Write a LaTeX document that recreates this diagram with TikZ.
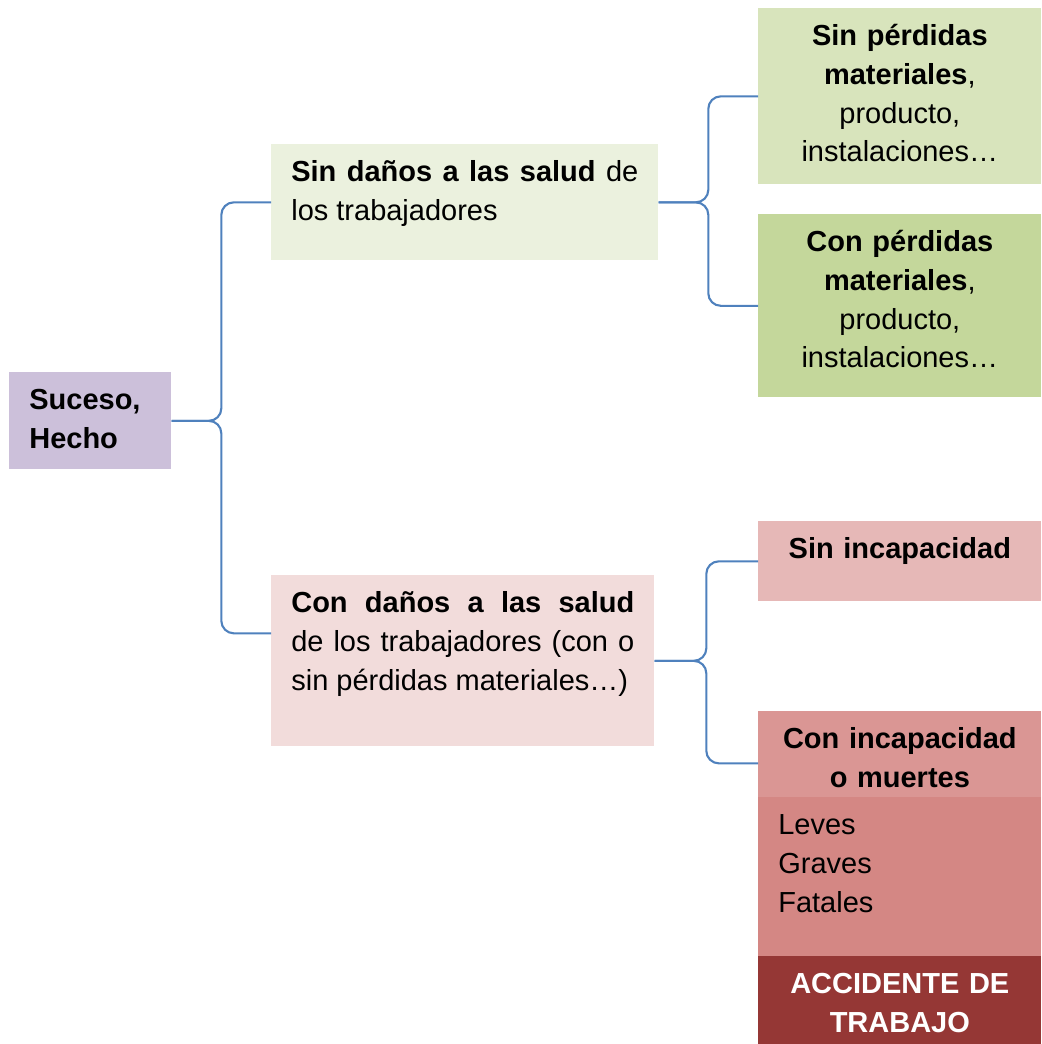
\documentclass[tikz,border=0pt]{standalone}
\usepackage{fontspec}
\setmainfont{Liberation Sans}
\usetikzlibrary{calc}

\definecolor{lila}{RGB}{204,192,218}
\definecolor{verdeclaro}{RGB}{235,241,222}
\definecolor{verdemedio}{RGB}{216,228,188}
\definecolor{verdeoscuro}{RGB}{196,215,155}
\definecolor{rosaclaro}{RGB}{242,220,219}
\definecolor{rosamedio}{RGB}{230,184,183}
\definecolor{rosaoscuro}{RGB}{218,150,148}
\definecolor{rosafuerte}{RGB}{212,135,132}
\definecolor{granate}{RGB}{149,55,53}
\definecolor{azul}{RGB}{79,129,189}

\tikzset{
	caja/.style={anchor=north west, inner xsep=0.4cm, inner ysep=6.3pt, text height=15pt,
		font=\fontsize{16.5}{22}\selectfont},
	llave/.style={draw=azul, line width=1.2pt, rounded corners=0.25cm},
}

\begin{document}
\begin{tikzpicture}[x=0.02cm, y=-0.02cm]

	\useasboundingbox (0,0) rectangle (1041,1044);

	\node[caja, fill=lila, text width=2.44cm, text depth=0.97cm, align=left] (suceso) at (9,372)
		{\textbf{Suceso,}\\\textbf{Hecho}};

	\node[caja, fill=verdeclaro, text width=6.94cm, text depth=1.35cm, align=justify] (sindanos) at (271,144)
		{\textbf{Sin daños a las salud} de\linebreak los trabajadores};
	\node[caja, fill=rosaclaro, text width=6.86cm, text depth=2.45cm, align=justify] (condanos) at (271,575)
		{\textbf{Con daños a las salud}\linebreak de los trabajadores (con o\linebreak sin pérdidas materiales…)};

	\node[caja, fill=verdemedio, text width=4.86cm, text depth=2.55cm, align=center] (sinperdidas) at (758,8)
		{\textbf{Sin pérdidas}\\\textbf{materiales},\\producto,\\instalaciones…};
	\node[caja, fill=verdeoscuro, text width=4.86cm, text depth=2.69cm, align=center] (conperdidas) at (758,214)
		{\textbf{Con pérdidas}\\\textbf{materiales},\\producto,\\instalaciones…};

	\node[caja, fill=rosamedio, text width=4.86cm, text depth=0.63cm, align=center] (sinincap) at (758,521)
		{\textbf{Sin incapacidad}};
	\node[caja, fill=rosaoscuro, text width=4.86cm, text depth=0.75cm, align=center] (conincap) at (758,711)
		{\textbf{Con incapacidad}\\\textbf{o muertes}};
	\node[caja, fill=rosafuerte, text width=4.86cm, text depth=2.21cm, align=left] (tipos) at (758,797)
		{Leves\\Graves\\Fatales};
	\node[caja, fill=granate, text=white, text width=4.86cm, text depth=0.79cm, align=center] (accidente) at (758,956)
		{\textbf{ACCIDENTE DE}\\\textbf{TRABAJO}};

	\coordinate (condanosin) at ([yshift=0.55cm]condanos.west);
	\coordinate (conincapin) at ([yshift=-0.18cm]conincap.west);

	% llaves
	\draw[llave] (suceso.east) -| ($(suceso.east)!0.5!(sindanos.west)$) |- (sindanos.west);
	\draw[llave] (suceso.east) -| ($(suceso.east)!0.5!(condanosin)$) |- (condanosin);

	\draw[llave] (sindanos.east) -| ($(sindanos.east)!0.5!(sinperdidas.west)$) |- (sinperdidas.west);
	\draw[llave] (sindanos.east) -| ($(sindanos.east)!0.5!(conperdidas.west)$) |- (conperdidas.west);

	\draw[llave] (condanos.east) -| ($(condanos.east)!0.5!(sinincap.west)$) |- (sinincap.west);
	\draw[llave] (condanos.east) -| ($(condanos.east)!0.5!(conincapin)$) |- (conincapin);

\end{tikzpicture}
\end{document}
